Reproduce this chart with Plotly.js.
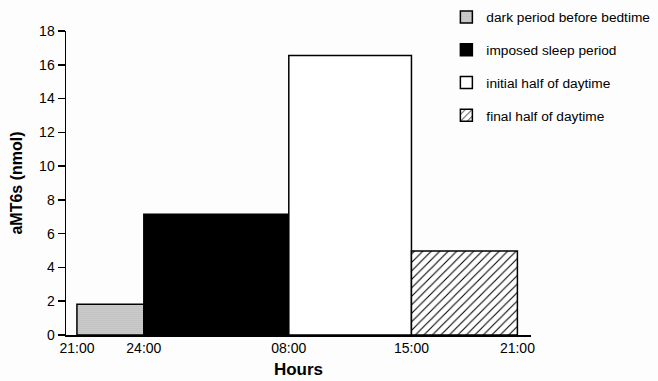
<!DOCTYPE html>
<html><head><meta charset="utf-8">
<script src="https://cdn.plot.ly/plotly-3.0.1.min.js"></script>
<style>html,body{margin:0;padding:0;background:#fdfdfd}</style>
</head><body><div id="chart" style="width:658px;height:381px"></div>
<script>
const seriesNames = ["dark period before bedtime","imposed sleep period","initial half of daytime","final half of daytime"];
const values = [1.82, 7.15, 16.55, 4.98];
const binEdges = [0, 3, 9.5, 15, 19.75];
const tickLabels = ["21:00","24:00","08:00","15:00","21:00"];

const styles = [
  {color:'#d8d8d8', pattern:{shape:'.', fgcolor:'#7a7a7a', bgcolor:'#dedede', size:2, solidity:0.3}},
  {color:'#000000'},
  {color:'#ffffff'},
  {color:'#ffffff', pattern:{shape:'/', fgcolor:'#000000', bgcolor:'#ffffff', size:6, solidity:0.18}}
];

const traces = seriesNames.map((name,i)=>{
  const m = {color: styles[i].color, line:{color:'#000', width:1.5}};
  if (styles[i].pattern) m.pattern = styles[i].pattern;
  return {
    type:'bar', name:name, legendgroup:'g'+i,
    x:[(binEdges[i]+binEdges[i+1])/2], y:[values[i]],
    width:[binEdges[i+1]-binEdges[i]],
    marker:m, hoverinfo:'skip'
  };
});

const layout = {
  width:658, height:381,
  paper_bgcolor:'#fdfdfd', plot_bgcolor:'#fdfdfd',
  margin:{l:66, r:127, t:31, b:46, autoexpand:false},
  barmode:'overlay',
  font:{family:'"Liberation Sans", Arial, sans-serif', color:'#000', size:14},
  xaxis:{range:[-0.49,20.36], tickvals:binEdges, ticktext:tickLabels, showline:true, linecolor:'#000', linewidth:1.5,
    ticks:'', showgrid:false, zeroline:false, tickfont:{size:14},
    title:{text:'<b>Hours</b>', font:{size:17}, standoff:8}},
  yaxis:{range:[0,18], dtick:2, showline:true, linecolor:'#000', linewidth:1.5, ticks:'outside', ticklen:7, tickwidth:1.5, tickcolor:'#000',
    showgrid:false, zeroline:false, tickfont:{size:14},
    title:{text:'<b>aMT6s (nmol)</b>', font:{size:16}, standoff:12}},
  showlegend:true,
  legend:{x:0.818, xanchor:'left', y:1.097, yanchor:'top', font:{size:13.7}, tracegroupgap:12, bgcolor:'rgba(0,0,0,0)'}
};
Plotly.newPlot('chart', traces, layout, {displayModeBar:false, staticPlot:true});
</script></body></html>
